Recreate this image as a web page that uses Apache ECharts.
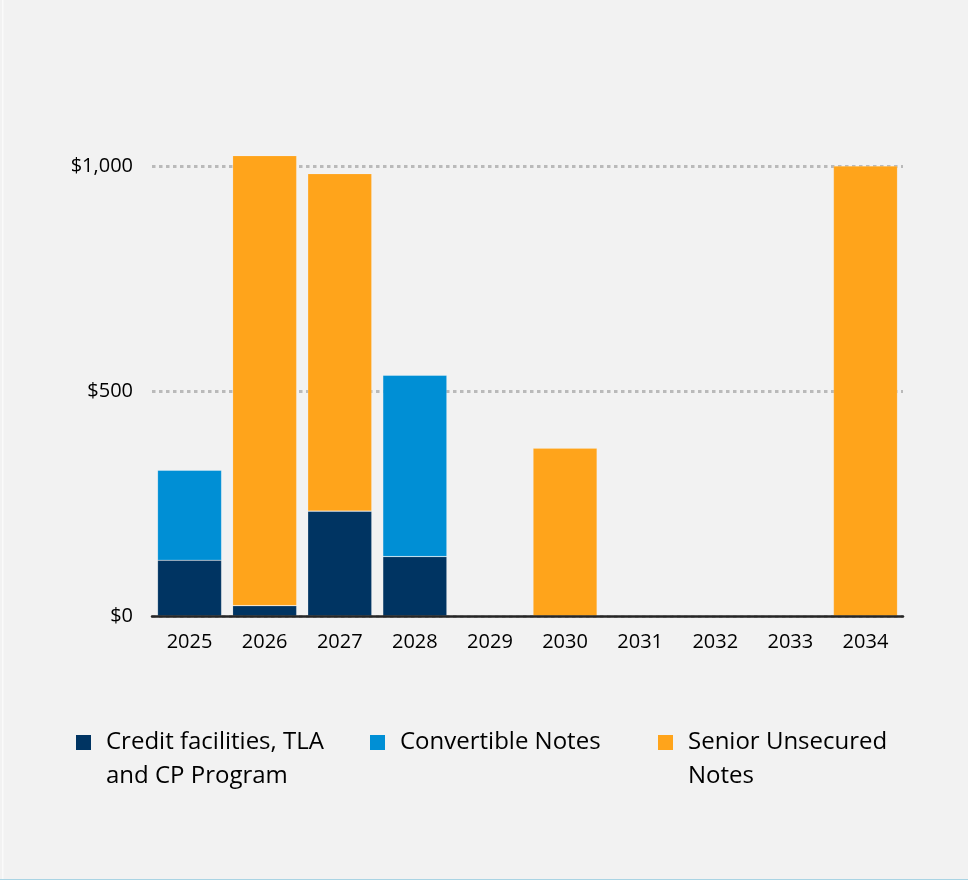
<!DOCTYPE html>
<html>
<head>
<meta charset="utf-8">
<script src="https://cdn.jsdelivr.net/npm/echarts@6/dist/echarts.min.js"></script>
<style>
html,body{margin:0;padding:0;background:#f2f2f2;}
#c{width:968px;height:880px;}
</style>
</head>
<body>
<div id="c"></div>
<script>
const years = ['2025','2026','2027','2028','2029','2030','2031','2032','2033','2034'];
const creditFacilities = [124, 23, 233, 132, 0, 0, 0, 0, 0, 0];
const convertibleNotes = [200, 0, 0, 403, 0, 0, 0, 0, 0, 0];
const seniorNotes = [0, 1000, 750, 0, 0, 373, 0, 0, 0, 1000];
const yTicks = [0, 500, 1000];
const seriesNames = ['Credit facilities, TLA and CP Program', 'Convertible Notes', 'Senior Unsecured Notes'];
const legendLines = [['Credit facilities, TLA', 'and CP Program'], ['Convertible Notes'], ['Senior Unsecured', 'Notes']];
const colors = ['#003462', '#008fd5', '#ffa41b'];

const font = '"Open Sans", Lato, sans-serif';
const chart = echarts.init(document.getElementById('c'), null, {renderer: 'canvas'});

function mkLegend(i, left, top) {
  const lines = legendLines[i];
  // pad with a blank first line so the first text line sits level with the icon
  const parts = lines.length > 1 ? [' '].concat(lines) : lines;
  return {
    left: left, top: top, orient: 'horizontal', padding: 0,
    itemWidth: 15, itemHeight: 15, itemGap: 0, icon: 'rect',
    selectedMode: false,
    data: [{name: seriesNames[i], itemStyle: {color: colors[i], borderWidth: 0}}],
    formatter: function () { return parts.map(function (p) { return '{t|' + p + '}'; }).join('\n'); },
    textStyle: {
      fontFamily: font, fontSize: 24, color: '#000', lineHeight: 34,
      rich: {t: {fontFamily: font, fontSize: 24, color: '#000', lineHeight: 34, padding: [0, 0, 0, 10]}}
    }
  };
}

const seriesData = [creditFacilities, convertibleNotes, seniorNotes];

chart.setOption({
  backgroundColor: '#f2f2f2',
  animation: false,
  grid: {left: 152, top: 166, width: 751, height: 450, containLabel: false},
  legend: [
    mkLegend(0, 76, 691.5),
    mkLegend(1, 370, 725.5),
    mkLegend(2, 658, 691.5)
  ],
  xAxis: {
    type: 'category', data: years,
    axisTick: {show: false},
    axisLine: {lineStyle: {color: '#262626', width: 2.5}},
    axisLabel: {color: '#000', fontFamily: font, fontSize: 20, margin: 16},
    z: 10
  },
  yAxis: {
    type: 'value', min: yTicks[0], max: yTicks[yTicks.length - 1], interval: 500,
    axisLine: {show: false}, axisTick: {show: false},
    axisLabel: {
      color: '#000', fontFamily: font, fontSize: 20, margin: 19,
      formatter: function (v) { return '$' + v.toLocaleString('en-US'); }
    },
    splitLine: {lineStyle: {color: '#bababa', width: 3.2, type: [3.5, 3.5]}}
  },
  series: seriesData.map(function (d, i) {
    return {
      name: seriesNames[i], type: 'bar', stack: 'total', data: d,
      barWidth: 64, clip: false,
      itemStyle: {color: colors[i], borderColor: 'rgba(255,255,255,0.25)', borderWidth: 0.6},
      emphasis: {disabled: true}
    };
  }),
  graphic: [
    {type: 'rect', shape: {x: 0, y: 879, width: 968, height: 1}, style: {fill: '#a9d4e4'}, silent: true},
    {type: 'rect', shape: {x: 2, y: 0, width: 1.5, height: 879}, style: {fill: '#fafafa'}, silent: true}
  ]
});
</script>
</body>
</html>
